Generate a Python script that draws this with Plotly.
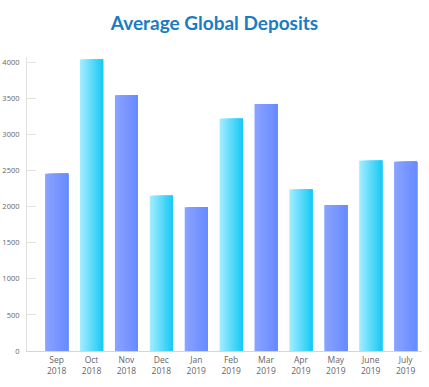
import plotly.graph_objects as go

months = ["Sep<br>2018", "Oct<br>2018", "Nov<br>2018", "Dec<br>2018", "Jan<br>2019",
          "Feb<br>2019", "Mar<br>2019", "Apr<br>2019", "May<br>2019", "June<br>2019", "July<br>2019"]
deposits = [2455, 4035, 3540, 2150, 1990, 3215, 3420, 2235, 2020, 2635, 2620]
y_ticks = [0, 500, 1000, 1500, 2000, 2500, 3000, 3500, 4000]

blue_left, blue_right = (138, 163, 255), (104, 139, 255)
cyan_left, cyan_right = (160, 236, 255), (28, 202, 245)

def mix(a, b, t):
    return "rgb(%d,%d,%d)" % tuple(round(a[i] + (b[i] - a[i]) * t) for i in range(3))

N = 14
W = 0.66
fig = go.Figure()
x_idx = list(range(len(months)))
for k in range(N):
    t = k / (N - 1)
    colors = [mix(blue_left, blue_right, t) if i % 2 == 0 else mix(cyan_left, cyan_right, t)
              for i in x_idx]
    fig.add_trace(go.Bar(
        x=x_idx, y=deposits,
        width=W - k * W / N,
        offset=-W / 2 + k * W / N,
        marker=dict(color=colors, line=dict(width=0)),
        hoverinfo="skip" if k < N - 1 else None,
        showlegend=False,
    ))

fig.update_layout(
    barmode="overlay",
    width=429, height=387,
    margin=dict(l=27, r=7, t=57, b=36),
    paper_bgcolor="white", plot_bgcolor="white",
    title=dict(text="<b>Average Global Deposits</b>", x=0.5, xanchor="center", y=0.94, yanchor="middle",
               font=dict(family="Lato, Open Sans, sans-serif", size=19, color="#1b7cc2")),
    xaxis=dict(tickmode="array", tickvals=x_idx, ticktext=months, range=[-0.85, 10.47],
               showline=True, linecolor="#d6d6d6", linewidth=1, showgrid=False, ticks="",
               automargin=False, ticklabelstandoff=1,
               tickfont=dict(family="Open Sans, sans-serif", size=8.5, color="#666666")),
    yaxis=dict(range=[0, 4070], tickvals=y_ticks, showline=True, linecolor="#e2e2e2", linewidth=1,
               showgrid=False, zeroline=False, ticks="inside", ticklen=9, tickcolor="#e2e2e2",
               ticklabelstandoff=5, automargin=False,
               tickfont=dict(family="Open Sans, sans-serif", size=7.5, color="#666666")),
)

fig.write_html("out.html", config={"displayModeBar": False},
               post_script="document.body.style.margin='0';document.body.style.overflow='hidden';")
